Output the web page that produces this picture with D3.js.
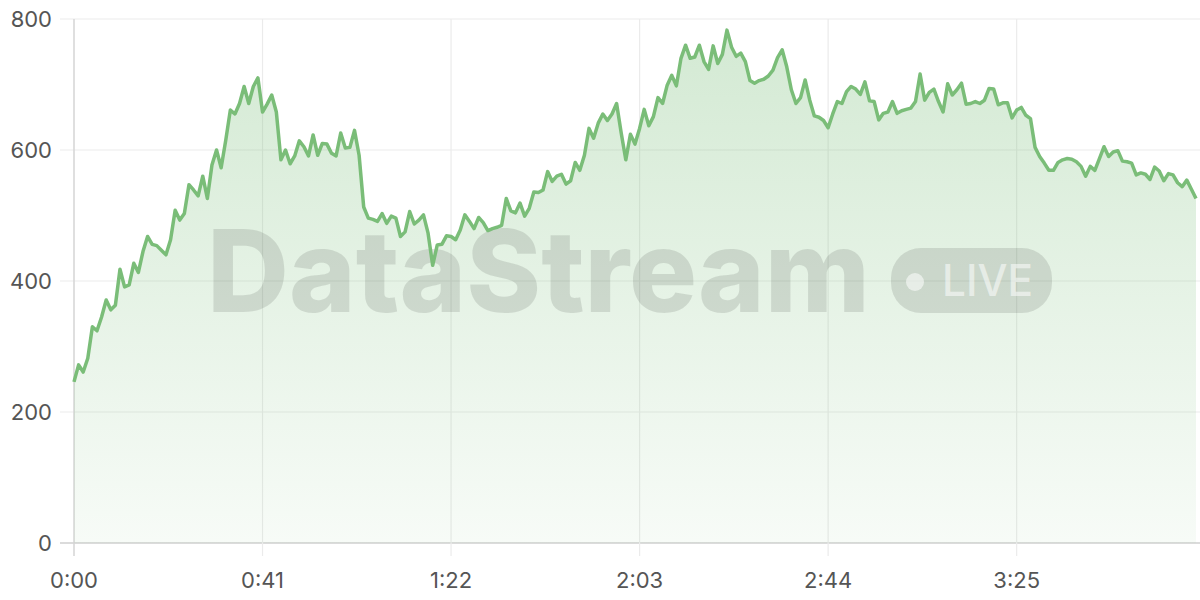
<!DOCTYPE html>
<html><head><meta charset="utf-8">
<script src="https://cdn.jsdelivr.net/npm/d3@7"></script>
<style>html,body{margin:0;padding:0;background:#fff;}svg{display:block;}</style>
</head><body>
<svg id="chart" width="1200" height="600"></svg>
<script>
const values = [246,272,261,282,330,324,345,371,356,363,418,391,394,427,413,445,468,456,454,447,
440,463,508,493,503,547,539,530,560,526,577,600,573,615,661,655,671,697,671,697,
710,658,670,684,658,585,600,579,591,614,605,591,623,592,610,609,595,591,626,603,
604,630,592,513,496,494,491,503,488,499,496,468,475,506,487,493,501,473,424,455,
456,469,468,463,478,501,491,480,497,489,477,480,482,485,526,507,504,519,499,511,
536,535,539,567,552,560,563,548,553,581,569,592,633,618,641,655,645,655,671,626,
585,624,609,633,662,637,651,680,671,699,714,698,740,760,740,742,760,735,723,759,
732,746,783,757,743,748,735,706,702,706,708,713,722,741,753,727,692,671,680,707,
676,652,650,645,634,655,674,671,689,697,693,685,704,675,674,646,656,658,674,656,
660,662,664,674,716,676,688,693,674,658,701,684,692,702,670,671,674,671,676,694,
693,669,672,672,649,661,665,653,648,604,590,580,569,569,581,585,587,586,582,575,
560,575,569,587,605,590,597,599,583,582,580,562,565,563,555,574,568,553,564,562,
550,544,554,540,526];
const seconds = values.map((v,i)=>i);
const xTicks = [0,41,82,123,164,205];
const yTicks = [0,200,400,600,800];
const watermarkText = "DataStream";
const badgeText = "LIVE";

const svg = d3.select("#chart");
const m = {left:74, right:1196, top:19, bottom:543};
const x = d3.scaleLinear().domain([0, seconds[seconds.length-1]]).range([m.left, m.right]);
const y = d3.scaleLinear().domain([0, 800]).range([m.bottom, m.top]);
const fmt = s => Math.floor(s/60) + ":" + String(s%60).padStart(2,"0");
const font = "Inter, 'Noto Sans', sans-serif";

const defs = svg.append("defs");
const g = defs.append("linearGradient").attr("id","areaGrad")
  .attr("gradientUnits","userSpaceOnUse").attr("x1",0).attr("x2",0).attr("y1",m.top).attr("y2",m.bottom);
g.append("stop").attr("offset","0%").attr("stop-color","#7cbf7c").attr("stop-opacity",0.34);
g.append("stop").attr("offset","100%").attr("stop-color","#7cbf7c").attr("stop-opacity",0.06);

// horizontal grid
svg.append("g").selectAll("line").data(yTicks).join("line")
  .attr("x1",60).attr("x2",1200).attr("y1",d=>y(d)).attr("y2",d=>y(d))
  .attr("stroke",d=>d===0?"#cfcfcf":"#ebebeb").attr("stroke-width",d=>d===0?1.5:1.2);
// vertical grid
svg.append("g").selectAll("line").data(xTicks).join("line")
  .attr("x1",d=>x(d)).attr("x2",d=>x(d)).attr("y1",m.top).attr("y2",556)
  .attr("stroke",d=>d===0?"#d4d4d4":"#ebebeb").attr("stroke-width",d=>d===0?1.5:1.2);

// area
const area = d3.area().x((d,i)=>x(seconds[i])).y0(y(0)).y1(d=>y(d));
svg.append("path").datum(values).attr("d",area).attr("fill","url(#areaGrad)");

// watermark
const wm = svg.append("g").attr("fill","#000").attr("fill-opacity",0.11);
wm.append("text").attr("x",207).attr("y",312).text(watermarkText)
  .attr("font-family","Inter, 'Open Sans', sans-serif").attr("font-weight",800).attr("font-size",114)
  .attr("textLength",663).attr("lengthAdjust","spacingAndGlyphs");
wm.append("rect").attr("x",891).attr("y",248).attr("width",161).attr("height",65).attr("rx",30);
const wl = svg.append("g").attr("fill","#fff").attr("fill-opacity",0.55);
wl.append("circle").attr("cx",915).attr("cy",282).attr("r",9);
wl.append("text").attr("x",942).attr("y",296).text(badgeText)
  .attr("font-family","Inter, sans-serif").attr("font-weight",500).attr("font-size",44)
  .attr("textLength",91).attr("lengthAdjust","spacingAndGlyphs");

// line
const line = d3.line().x((d,i)=>x(seconds[i])).y(d=>y(d));
svg.append("path").datum(values).attr("d",line).attr("fill","none")
  .attr("stroke","#7abd78").attr("stroke-width",3.5).attr("stroke-linejoin","round");

// labels
svg.append("g").selectAll("text").data(yTicks).join("text")
  .attr("x",52).attr("y",d=>y(d)+8).attr("text-anchor","end")
  .attr("font-family",font).attr("font-size",22).attr("fill","#555").text(d=>d);
svg.append("g").selectAll("text").data(xTicks).join("text")
  .attr("x",d=>x(d)).attr("y",588).attr("text-anchor","middle")
  .attr("font-family",font).attr("font-size",22).attr("fill","#555").text(d=>fmt(d));
</script>
</body></html>
